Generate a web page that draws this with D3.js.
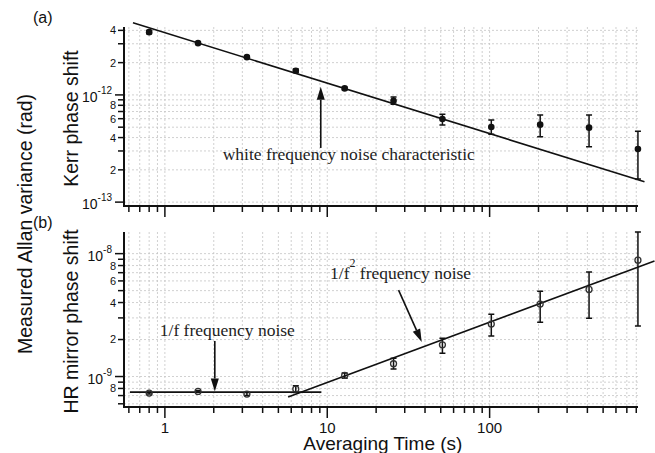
<!DOCTYPE html>
<html>
<head>
<meta charset="utf-8">
<style>
    body { margin: 0; background: #fff; }
    svg { display: block; }
    .grid line { stroke: #c4c4c4; stroke-width: 0.8; stroke-dasharray: 2,2; }
    .sans { font-family: 'Liberation Sans', Arial, sans-serif; fill: #111; }
    .serif { font-family: 'Liberation Serif', 'Times New Roman', serif; fill: #222; }
</style>
</head>
<body>
<svg width="655" height="453"></svg>

<script src="https://d3js.org/d3.v7.min.js"></script>
<script>
    // averaging times (s)
    let tau = [0.8, 1.6, 3.2, 6.4, 12.8, 25.6, 51.2, 102.4, 204.8, 409.6, 819.2]

    // (a) Kerr phase shift, Allan variance (rad)
    let kerr   = [3.85e-12, 3.04e-12, 2.25e-12, 1.68e-12, 1.15e-12, 8.8e-13, 5.97e-13, 5.02e-13, 5.28e-13, 4.95e-13, 3.13e-13]
    let kerrLo = [3.72e-12, 2.98e-12, 2.2e-12, 1.62e-12, 1.12e-12, 8.19e-13, 5.25e-13, 4.29e-13, 4.08e-13, 3.29e-13, 1.64e-13]
    let kerrHi = [3.98e-12, 3.1e-12, 2.3e-12, 1.74e-12, 1.18e-12, 9.58e-13, 6.6e-13, 5.84e-13, 6.5e-13, 6.5e-13, 4.58e-13]

    // (b) HR mirror phase shift
    let hr   = [7.33e-10, 7.56e-10, 7.2e-10, 7.9e-10, 1.02e-9, 1.27e-9, 1.81e-9, 2.67e-9, 3.89e-9, 5.11e-9, 8.84e-9]
    let hrLo = [7.2e-10, 7.45e-10, 7.0e-10, 7.41e-10, 9.7e-10, 1.15e-9, 1.55e-9, 2.14e-9, 2.76e-9, 2.98e-9, 2.58e-9]
    let hrHi = [7.45e-10, 7.68e-10, 7.4e-10, 8.4e-10, 1.066e-9, 1.41e-9, 2.05e-9, 3.21e-9, 4.95e-9, 7.1e-9, 1.5e-8]

    // fitted noise lines [tau, value]
    let whiteFit = [[0.636, 4.71e-12], [899, 1.55e-13]]
    let flickerFit = [[0.609, 7.47e-10], [9.2, 7.47e-10]]
    let walkFit = [[5.74, 6.8e-10], [1036, 8.73e-9]]

    // tick labels
    let xLabels = [1, 10, 100]
    let kerrLabels = [2e-13, 4e-13, 6e-13, 8e-13, 2e-12, 4e-12]
    let hrLabels = [8e-10, 2e-9, 4e-9, 6e-9, 8e-9]

    let svg = d3.select("svg")
    let left = 124, right = 638

    let x = d3.scaleLog().domain([0.56, 820]).range([left, right])

    let panels = [
        { name: "(a)", title: "Kerr phase shift", top: 27, bottom: 206, domain: [9.2e-14, 4.3e-12],
          v: kerr, lo: kerrLo, hi: kerrHi, labels: kerrLabels, filled: true, fits: [whiteFit] },
        { name: "(b)", title: "HR mirror phase shift", top: 232, bottom: 407, domain: [5.65e-10, 1.5e-8],
          v: hr, lo: hrLo, hi: hrHi, labels: hrLabels, filled: false, fits: [flickerFit, walkFit] }
    ]

    let isMajor = d => Math.abs(Math.log10(d) - Math.round(Math.log10(d))) < 1e-6

    panels.forEach(p => {
        p.y = d3.scaleLog().domain(p.domain).range([p.bottom, p.top])
        let g = svg.append("g")

        // grid
        let grid = g.append("g").attr("class", "grid")
        grid.selectAll(".gx").data(x.ticks()).join("line")
            .attr("x1", d => x(d)).attr("x2", d => x(d))
            .attr("y1", p.top).attr("y2", p.bottom)
        grid.selectAll(".gy").data(p.y.ticks()).join("line")
            .attr("x1", left).attr("x2", right)
            .attr("y1", d => p.y(d)).attr("y2", d => p.y(d))

        // axis lines
        g.append("path")
            .attr("d", `M${left},${p.top}V${p.bottom}H${right}`)
            .style("fill", "none").style("stroke", "#111").style("stroke-width", 2)

        // y ticks
        g.selectAll(".ty").data(p.y.ticks()).join("line")
            .attr("x1", d => left - (isMajor(d) ? 9 : 6)).attr("x2", left)
            .attr("y1", d => p.y(d)).attr("y2", d => p.y(d))
            .style("stroke", "#111").style("stroke-width", 1.5)

        // x ticks
        g.selectAll(".tx").data(x.ticks()).join("line")
            .attr("x1", d => x(d)).attr("x2", d => x(d))
            .attr("y1", p.bottom).attr("y2", d => p.bottom + (isMajor(d) ? 11 : 6))
            .style("stroke", "#111").style("stroke-width", 1.5)

        // minor y labels
        g.selectAll(".ly").data(p.labels).join("text")
            .attr("class", "sans")
            .attr("x", left - 8).attr("y", d => p.y(d)).attr("dy", "0.36em")
            .attr("text-anchor", "end").style("font-size", "11px")
            .text(d => Math.round(d / Math.pow(10, Math.floor(Math.log10(d) + 1e-9))))

        // power of ten labels
        let pow = g.selectAll(".lp").data(p.y.ticks().filter(isMajor)).join("text")
            .attr("class", "sans")
            .attr("x", left - 12).attr("y", d => p.y(d) + 7)
            .attr("text-anchor", "end").style("font-size", "14px")
        pow.append("tspan").text("10")
        pow.append("tspan").attr("dy", -8).style("font-size", "10px")
            .text(d => "-" + Math.abs(Math.round(Math.log10(d))))

        // panel letter
        g.append("text").attr("class", "sans")
            .attr("x", 33).attr("y", p.top - 4)
            .style("font-size", "16px").text(p.name)

        // y title
        g.append("text").attr("class", "sans")
            .attr("transform", `translate(78,${(p.top + p.bottom) / 2 + 2}) rotate(-90)`)
            .attr("text-anchor", "middle").style("font-size", "19.5px")
            .text(p.title)

        // fit lines
        p.fits.forEach(f => {
            g.append("line")
                .attr("x1", x(f[0][0])).attr("y1", p.y(f[0][1]))
                .attr("x2", x(f[1][0])).attr("y2", p.y(f[1][1]))
                .style("stroke", "#111").style("stroke-width", 1.6)
        })

        // error bars
        let eb = g.selectAll(".eb").data(tau).join("g")
        eb.append("path")
            .attr("d", (d, i) => {
                let xx = x(d), y1 = p.y(p.lo[i]), y2 = p.y(p.hi[i])
                return `M${xx - 3},${y1}H${xx + 3}M${xx},${y1}V${y2}M${xx - 3},${y2}H${xx + 3}`
            })
            .style("fill", "none").style("stroke", "#111").style("stroke-width", 1.5)

        // points
        g.selectAll(".pt").data(tau).join("circle")
            .attr("cx", d => x(d)).attr("cy", (d, i) => p.y(p.v[i]))
            .attr("r", p.filled ? 3.3 : 3)
            .style("fill", p.filled ? "#111" : "none")
            .style("stroke", p.filled ? "none" : "#333")
            .style("stroke-width", 1.3)
    })

    // x labels on bottom panel
    let pb = panels[1]
    svg.selectAll(".lx").data(xLabels).join("text")
        .attr("class", "sans")
        .attr("x", d => x(d)).attr("y", pb.bottom + 26)
        .attr("text-anchor", "middle").style("font-size", "15px")
        .text(d => d)

    svg.append("text").attr("class", "sans")
        .attr("x", x(22)).attr("y", 450)
        .attr("text-anchor", "middle").style("font-size", "19px")
        .text("Averaging Time (s)")

    svg.append("text").attr("class", "sans")
        .attr("transform", "translate(32,224) rotate(-90)")
        .attr("text-anchor", "middle").style("font-size", "19.5px")
        .text("Measured Allan variance (rad)")

    // annotations
    function arrow(x1, y1, x2, y2) {
        let a = Math.atan2(y2 - y1, x2 - x1), L = 13, w = 4
        let bx = x2 - L * Math.cos(a), by = y2 - L * Math.sin(a)
        svg.append("line").attr("x1", x1).attr("y1", y1).attr("x2", bx).attr("y2", by)
            .style("stroke", "#111").style("stroke-width", 1.6)
        svg.append("path")
            .attr("d", `M${x2},${y2}L${bx + w * Math.sin(a)},${by - w * Math.cos(a)}L${bx - w * Math.sin(a)},${by + w * Math.cos(a)}Z`)
            .style("fill", "#111")
    }

    let ya = panels[0].y, yb = panels[1].y

    svg.append("text").attr("class", "serif")
        .attr("x", x(2.27)).attr("y", ya(2.47e-13)).style("font-size", "17.5px")
        .text("white frequency noise characteristic")
    arrow(x(9.12), ya(3.2e-13), x(9.12), ya(1.19e-12))

    svg.append("text").attr("class", "serif")
        .attr("x", x(0.93)).attr("y", yb(2.14e-9)).style("font-size", "17.5px")
        .text("1/f frequency noise")
    arrow(x(2.03), yb(1.95e-9), x(2.03), yb(7.56e-10))

    let t2 = svg.append("text").attr("class", "serif")
        .attr("x", x(10.4)).attr("y", yb(6.2e-9)).style("font-size", "17.5px")
    t2.append("tspan").text("1/f")
    t2.append("tspan").attr("dy", -12).style("font-size", "12px").text("2")
    t2.append("tspan").attr("dy", 12).text(" frequency noise")
    arrow(x(27.5), yb(5.05e-9), x(38.2), yb(1.91e-9))
</script>
</body>
</html>
